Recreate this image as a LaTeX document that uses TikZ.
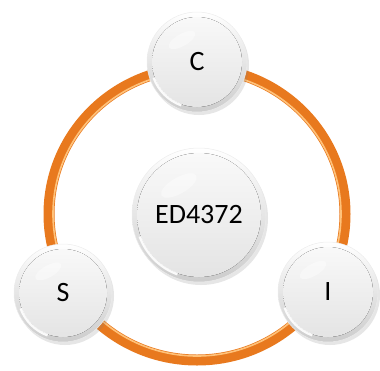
\documentclass[tikz,border=0pt]{standalone}
\usepackage{fontspec}
\setmainfont{Carlito}
\usetikzlibrary{shadows}
\definecolor{ringorange}{HTML}{E8791E}
\definecolor{ringlight}{HTML}{FFC27A}
\tikzset{
  ball/.style={circle, minimum size=#1, inner sep=0pt,
    top color=white, bottom color=gray!40, draw=gray!15, line width=0.5pt,
    drop shadow={opacity=0.2, shadow xshift=2pt, shadow yshift=-3pt},
    font=\fontsize{28}{30}\selectfont, text=black,
    path picture={\fill[top color=gray!4, bottom color=gray!22]
      (path picture bounding box.center) circle (#1/2-5pt);
      \draw[white, line width=2.5pt, opacity=0.9]
      ([shift={(200:#1/2-4pt)}]path picture bounding box.center)
        arc[start angle=200, end angle=250, radius=#1/2-4pt];
      \fill[white, opacity=0.4] ([xshift=-0.15*#1, yshift=0.22*#1]path picture bounding box.center)
        ellipse [x radius=0.15*#1, y radius=0.06*#1, rotate=30];}},
  ringline/.style={draw=ringorange, line width=11pt},
  ringshine/.style={draw=ringlight, line width=1.6pt}
}
\begin{document}
\begin{tikzpicture}[x=1pt,y=-1pt]
\useasboundingbox (0,0) rectangle (380,370);
\coordinate (ringc) at (197,214);
\draw[ringline] (ringc) ellipse [x radius=148, y radius=146];
\draw[ringshine] (ringc) ellipse [x radius=144, y radius=142];
\node[ball=134pt] (core) at (199,215) {ED4372};
\node[ball=100pt] (c) at (197,62) {C};
\node[ball=98pt] (s) at (63,293) {S};
\node[ball=100pt] (i) at (328,292) {I};
\end{tikzpicture}
\end{document}
